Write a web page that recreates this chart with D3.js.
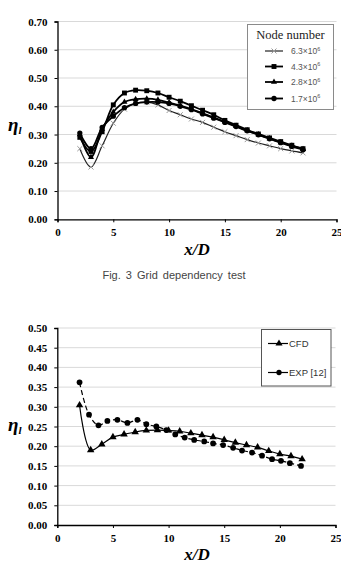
<!DOCTYPE html>
<html><head><meta charset="utf-8">
<script src="https://cdn.jsdelivr.net/npm/d3@7"></script>
<style>
html,body{margin:0;padding:0;background:#fff;}
svg{display:block;}
</style></head>
<body>
<script>
// ---------- Data: top chart (grid dependency) ----------
const xTop = [2,3,4,5,6,7,8,9,10,11,12,13,14,15,16,17,18,19,20,21,22];
const s63 = [0.25,0.185,0.26,0.34,0.39,0.41,0.415,0.405,0.385,0.37,0.355,0.343,0.326,0.31,0.296,0.282,0.27,0.26,0.25,0.242,0.235];
const s43 = [0.29,0.24,0.31,0.405,0.447,0.457,0.455,0.447,0.432,0.418,0.402,0.386,0.37,0.35,0.333,0.317,0.302,0.288,0.275,0.262,0.25];
const s28 = [0.30,0.22,0.32,0.38,0.415,0.425,0.427,0.423,0.413,0.402,0.39,0.375,0.36,0.345,0.33,0.314,0.3,0.286,0.272,0.26,0.248];
const s17 = [0.305,0.25,0.325,0.365,0.395,0.41,0.415,0.415,0.41,0.4,0.388,0.373,0.358,0.343,0.328,0.313,0.299,0.285,0.271,0.258,0.246];
const topLegend = ["6.3\u00d710", "4.3\u00d710", "2.8\u00d710", "1.7\u00d710"];
const topYTicks = [0,0.1,0.2,0.3,0.4,0.5,0.6,0.7];
const xTicks = [0,5,10,15,20,25];

// ---------- Data: bottom chart (CFD vs EXP) ----------
const cfdX = [2,3,4,5,6,7,8,9,10,11,12,13,14,15,16,17,18,19,20,21,22];
const cfd = [0.304,0.19,0.205,0.223,0.23,0.236,0.24,0.241,0.24,0.238,0.233,0.228,0.223,0.216,0.209,0.203,0.197,0.188,0.18,0.175,0.167];
const expX = [2.0,2.85,3.7,4.5,5.4,6.3,7.2,8.0,8.9,9.8,10.6,11.45,12.3,13.2,14.0,14.9,15.8,16.6,17.5,18.4,19.3,20.1,20.9,21.9];
const exp = [0.362,0.28,0.253,0.264,0.267,0.259,0.267,0.256,0.25,0.241,0.23,0.222,0.216,0.212,0.207,0.203,0.196,0.189,0.184,0.176,0.167,0.163,0.157,0.15];
const botLegend = ["CFD", "EXP [12]"];
const botYTicks = [0,0.05,0.1,0.15,0.2,0.25,0.3,0.35,0.4,0.45,0.5];

const svg = d3.select("body").append("svg").attr("width",341).attr("height",570);
const serif = "'Liberation Serif','Times New Roman',serif";
const sans = "'Liberation Sans',Arial,sans-serif";

function axes(g, x, y, yTicks, fmt){
  g.append("g").selectAll("line").data(yTicks.filter(d=>d>0)).join("line")
    .attr("x1",x(0)).attr("x2",x(25)).attr("y1",d=>y(d)).attr("y2",d=>y(d))
    .attr("stroke","#d9d9d9").attr("stroke-width",1);
  const ya = g.append("g").attr("transform",`translate(${x(0)},0)`)
    .call(d3.axisLeft(y).tickValues(yTicks).tickFormat(fmt).tickSize(3).tickPadding(7));
  const xa = g.append("g").attr("transform",`translate(0,${y(0)})`)
    .call(d3.axisBottom(x).tickValues(xTicks).tickSize(3).tickPadding(6));
  [ya,xa].forEach(a=>{
    a.select(".domain").attr("stroke","#000").attr("stroke-width",1.3);
    a.selectAll(".tick line").attr("stroke","#000");
    a.selectAll("text").attr("font-family",serif).attr("font-weight","bold").attr("font-size",11).attr("fill","#000");
  });
  return {ya,xa};
}

function yTitle(g, cx, cy){
  const t = g.append("text").attr("x",cx).attr("y",cy).attr("font-family",serif)
    .attr("font-weight","bold").attr("font-style","italic").attr("fill","#000");
  t.append("tspan").attr("font-size",19).text("\u03b7");
  t.append("tspan").attr("font-size",11).attr("dy",3).text("l");
}
function xTitle(g, cx, cy){
  g.append("text").attr("x",cx).attr("y",cy).attr("text-anchor","middle")
    .attr("font-family",serif).attr("font-weight","bold").attr("font-style","italic")
    .attr("font-size",17).attr("fill","#000").text("x/D");
}

const curve = d3.curveCatmullRom.alpha(0.5);

// ================= TOP CHART =================
{
  const g = svg.append("g");
  const x = d3.scaleLinear().domain([0,25]).range([57.5,336.5]);
  const y = d3.scaleLinear().domain([0,0.7]).range([219.3,21.5]);
  axes(g, x, y, topYTicks, d3.format(".2f"));
  yTitle(g, 8, 131);
  xTitle(g, 197, 255);
  g.append("text").attr("x",174).attr("y",279).attr("text-anchor","middle")
    .attr("font-family",sans).attr("font-size",11).attr("fill","#444")
    .attr("word-spacing",2).text("Fig. 3 Grid dependency test");

  const series = [
    {v:s63, w:1.2, sym:d3.symbolTimes, size:18, fill:"none", stroke:"#999", lc:"#222"},
    {v:s43, w:1.8, sym:d3.symbolSquare, size:24, fill:"#000", stroke:"none", lc:"#000"},
    {v:s28, w:1.8, sym:d3.symbolTriangle, size:16, fill:"#000", stroke:"none", lc:"#000"},
    {v:s17, w:1.8, sym:d3.symbolCircle, size:22, fill:"#000", stroke:"none", lc:"#000"}
  ];
  const line = d3.line().x(d=>x(d[0])).y(d=>y(d[1])).curve(curve);
  series.forEach(s=>{
    const pts = xTop.map((xx,i)=>[xx,s.v[i]]);
    g.append("path").attr("d",line(pts)).attr("fill","none").attr("stroke",s.lc).attr("stroke-width",s.w);
    g.append("g").selectAll("path").data(pts).join("path")
      .attr("transform",d=>`translate(${x(d[0])},${y(d[1])})`)
      .attr("d",d3.symbol(s.sym,s.size)).attr("fill",s.fill).attr("stroke",s.stroke).attr("stroke-width",1);
  });

  const lg = g.append("g");
  lg.append("rect").attr("x",247.5).attr("y",24.5).attr("width",86).attr("height",85)
    .attr("fill","#fff").attr("stroke","#8a8a8a").attr("stroke-width",1);
  lg.append("text").attr("x",290.5).attr("y",39).attr("text-anchor","middle")
    .attr("font-family",serif).attr("font-size",12.5).attr("fill","#222").text("Node number");
  const ly = [51,66.5,82,98.5];
  series.forEach((s,i)=>{
    lg.append("line").attr("x1",265).attr("x2",283).attr("y1",ly[i]).attr("y2",ly[i])
      .attr("stroke",s.lc).attr("stroke-width",s.w);
    lg.append("path").attr("transform",`translate(274,${ly[i]})`).attr("d",d3.symbol(s.sym,s.size))
      .attr("fill",s.fill).attr("stroke",s.stroke);
    const t = lg.append("text").attr("x",291).attr("y",ly[i]+3).attr("font-family",sans)
      .attr("font-size",8.5).attr("fill","#555");
    t.append("tspan").text(topLegend[i]);
    t.append("tspan").attr("font-size",5.5).attr("dy",-3.5).text("6");
  });
}

// ================= BOTTOM CHART =================
{
  const g = svg.append("g");
  const x = d3.scaleLinear().domain([0,25]).range([57.3,335.5]);
  const y = d3.scaleLinear().domain([0,0.5]).range([525,328]);
  axes(g, x, y, botYTicks, d3.format(".2f"));
  yTitle(g, 8, 431);
  xTitle(g, 197, 560);

  const line = d3.line().x(d=>x(d[0])).y(d=>y(d[1])).curve(curve);
  const cp = cfdX.map((xx,i)=>[xx,cfd[i]]);
  const ep = expX.map((xx,i)=>[xx,exp[i]]);
  g.append("path").attr("d",line(cp)).attr("fill","none").attr("stroke","#000").attr("stroke-width",1.2);
  g.append("path").attr("d",line(ep)).attr("fill","none").attr("stroke","#000").attr("stroke-width",1.2)
    .attr("stroke-dasharray","5,3");
  g.append("g").selectAll("path").data(cp).join("path")
    .attr("transform",d=>`translate(${x(d[0])},${y(d[1])})`)
    .attr("d",d3.symbol(d3.symbolTriangle,24)).attr("fill","#000");
  g.append("g").selectAll("path").data(ep).join("path")
    .attr("transform",d=>`translate(${x(d[0])},${y(d[1])})`)
    .attr("d",d3.symbol(d3.symbolCircle,26)).attr("fill","#000");

  const lg = g.append("g");
  lg.append("rect").attr("x",261.5).attr("y",329.5).attr("width",69.5).attr("height",56.5)
    .attr("fill","#fff").attr("stroke","#555").attr("stroke-width",1);
  const ly = [343.5,372.5];
  const syms = [d3.symbolTriangle, d3.symbolCircle];
  botLegend.forEach((lab,i)=>{
    lg.append("line").attr("x1",268).attr("x2",288).attr("y1",ly[i]).attr("y2",ly[i])
      .attr("stroke","#000").attr("stroke-width",1.2);
    lg.append("path").attr("transform",`translate(279,${ly[i]})`).attr("d",d3.symbol(syms[i],22)).attr("fill","#000");
    lg.append("text").attr("x",289).attr("y",ly[i]+3.5).attr("font-family",sans)
      .attr("font-size",9.5).attr("fill","#333").text(lab);
  });
}
</script>
</body></html>
